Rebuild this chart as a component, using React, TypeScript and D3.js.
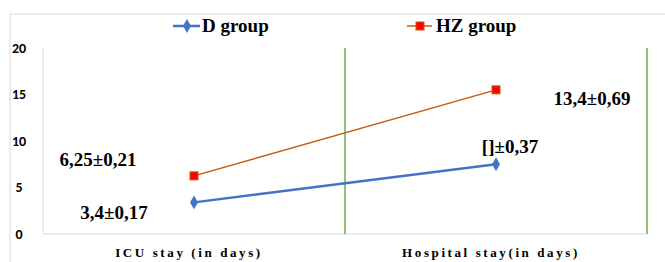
import React from "react";
import * as d3 from "d3";

const categories = ["ICU stay (in days)", "Hospital stay(in days)"];
const dGroup = [3.4, 7.5];
const hzGroup = [6.25, 15.5];
const dLabels = ["3,4±0,17", "[]±0,37"];
const hzLabels = ["6,25±0,21", "13,4±0,69"];
const yTicks = [0, 5, 10, 15, 20];
const seriesNames = ["D group", "HZ group"];

const W = 665;
const H = 262;
const left = 43;
const right = 647;
const top = 48;
const bottom = 234;

const serif: React.CSSProperties = { fontFamily: "Liberation Serif, Times New Roman, serif", fontWeight: 700 };
const sans: React.CSSProperties = { fontFamily: "Carlito, Liberation Sans, Arial, sans-serif", fontWeight: 700 };

export default function App() {
  const x = d3.scaleBand<string>().domain(categories).range([left, right]).padding(0);
  const y = d3.scaleLinear().domain([0, 20]).range([bottom, top]);
  const cx = (c: string) => (x(c) as number) + x.bandwidth() / 2;
  const line = d3
    .line<number>()
    .x((_, i) => cx(categories[i]))
    .y((v) => y(v));
  const diamond = d3.symbol(d3.symbolDiamond, 55)() as string;

  return (
    <svg width={W} height={H} style={{ position: "absolute", left: 0, top: 0, background: "#fff" }}>
      <rect x={10} y={14} width={W + 5} height={H} fill="none" stroke="#d9d9d9" strokeWidth={1} />
      <line x1={left} x2={left} y1={top} y2={bottom} stroke="#d9d9d9" strokeWidth={1} />
      <line x1={left} x2={right} y1={bottom} y2={bottom} stroke="#d9d9d9" strokeWidth={1} />
      {categories.map((c) => (
        <line
          key={"sep" + c}
          x1={(x(c) as number) + x.bandwidth()}
          x2={(x(c) as number) + x.bandwidth()}
          y1={top}
          y2={bottom}
          stroke="#70AD47"
          strokeWidth={1.5}
        />
      ))}
      {yTicks.map((t) => (
        <text key={t} x={19} y={y(t)} textAnchor="middle" dominantBaseline="central" style={sans} fontSize={14} fill="#000">
          {t}
        </text>
      ))}
      {categories.map((c) => (
        <text key={c} x={cx(c) - 5} y={257} textAnchor="middle" style={serif} fontSize={13} letterSpacing={2.6} fill="#000">
          {c}
        </text>
      ))}
      <path d={line(hzGroup) as string} fill="none" stroke="#C55A11" strokeWidth={1.5} />
      <path d={line(dGroup) as string} fill="none" stroke="#4472C4" strokeWidth={2.5} />
      {hzGroup.map((v, i) => (
        <rect
          key={"hz" + i}
          x={cx(categories[i]) - 4}
          y={y(v) - 4}
          width={8}
          height={8}
          fill="#FF0000"
          stroke="#C55A11"
          strokeWidth={1}
        />
      ))}
      {dGroup.map((v, i) => (
        <path key={"d" + i} d={diamond} transform={`translate(${cx(categories[i])},${y(v)})`} fill="#4472C4" />
      ))}
      <text x={98} y={166} textAnchor="middle" style={serif} fontSize={19}>
        {hzLabels[0]}
      </text>
      <text x={114} y={219} textAnchor="middle" style={serif} fontSize={19}>
        {dLabels[0]}
      </text>
      <text x={510} y={153} textAnchor="middle" style={serif} fontSize={19}>
        {dLabels[1]}
      </text>
      <text x={592} y={105} textAnchor="middle" style={serif} fontSize={19}>
        {hzLabels[1]}
      </text>
      <g>
        <line x1={173} x2={200} y1={26} y2={26} stroke="#4472C4" strokeWidth={2.5} />
        <path d={diamond} transform="translate(187,26)" fill="#4472C4" />
        <text x={202} y={32} style={serif} fontSize={19}>
          {seriesNames[0]}
        </text>
        <line x1={407} x2={432} y1={26} y2={26} stroke="#C55A11" strokeWidth={1.5} />
        <rect x={416} y={22} width={8} height={8} fill="#FF0000" stroke="#C55A11" strokeWidth={1} />
        <text x={436} y={32} style={serif} fontSize={19}>
          {seriesNames[1]}
        </text>
      </g>
    </svg>
  );
}
